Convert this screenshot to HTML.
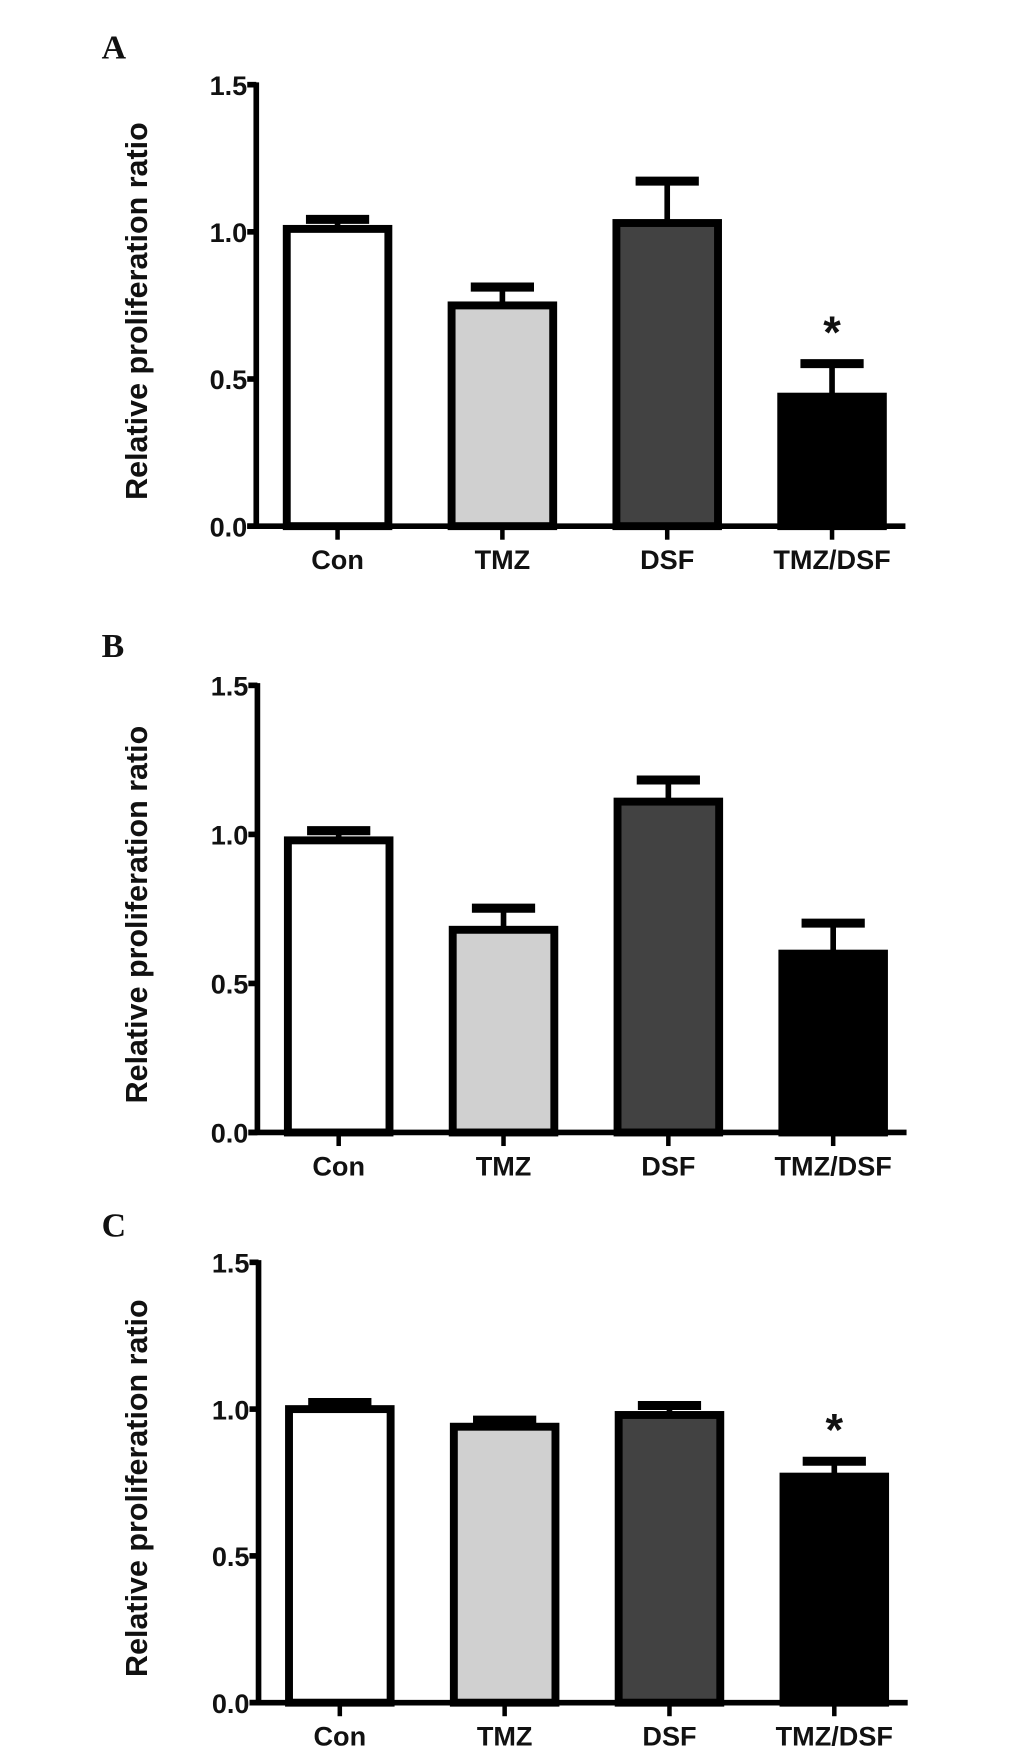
<!DOCTYPE html>
<html><head><meta charset="utf-8"><style>
html,body{margin:0;padding:0;background:#fff;}
svg{display:block;}
text{font-family:"Liberation Sans",sans-serif;font-weight:bold;fill:#111;}
text.letter{font-family:"Liberation Serif",serif;}
</style></head><body>
<svg id="fig" width="1033" height="1758" viewBox="0 0 915 1557" preserveAspectRatio="none" xmlns="http://www.w3.org/2000/svg"></svg>
<script>
const categories = ["Con","TMZ","DSF","TMZ/DSF"];
const fills = ["#ffffff","#d0d0d0","#424242","#000000"];
const panelLabels = ["A","B","C"];
const meansA = [1.01,0.75,1.03,0.44];
const errA = [1.05,0.82,1.18,0.56];
const meansB = [0.98,0.68,1.11,0.60];
const errB = [1.02,0.76,1.19,0.71];
const meansC = [1.00,0.94,0.98,0.77];
const errC = [1.03,0.97,1.02,0.83];
const starsA = [false,false,false,true];
const starsB = [false,false,false,false];
const starsC = [false,false,false,true];
const yTicks = [0,0.5,1.0,1.5];
const tickLabels = ["0.0","0.5","1.0","1.5"];

const panels = [
 {means:meansA, err:errA, stars:starsA, top:75, bottom:466, ax:227, letterY:52},
 {means:meansB, err:errB, stars:starsB, top:607, bottom:1003, ax:228, letterY:582},
 {means:meansC, err:errC, stars:starsC, top:1118, bottom:1508, ax:229, letterY:1095}
];
const svg = document.getElementById('fig');
const NS = "http://www.w3.org/2000/svg";
function mk(tag, attrs, parent){const e=document.createElementNS(NS,tag);for(const k in attrs)e.setAttribute(k,attrs[k]);(parent||svg).appendChild(e);return e;}

panels.forEach((p,pi)=>{
  const g = mk('g',{});
  
  
  const y = v => p.bottom - (v/1.5)*(p.bottom-p.top);
  const x0 = p.ax, step = 146, barW = 96, firstCenter = p.ax + 72;
  const xc = i => firstCenter + i*step;
  const L = mk('text',{x:90,y:p.letterY,'font-size':30,'class':'letter'},g);
  L.textContent = panelLabels[pi];
  
  
  const mid=(p.top+p.bottom)/2;
  const T = mk('text',{x:0,y:0,'font-size':27,'text-anchor':'middle',transform:`translate(130,${mid+5}) rotate(-90)`},g);
  T.textContent='Relative proliferation ratio';
  
  
  categories.forEach((c,i)=>{
    const top=y(p.means[i]), cx=xc(i);
    const eb = mk('line',{x1:cx,x2:cx,y1:y(p.err[i]),y2:top,stroke:'#000','stroke-width':5},g);
    
    
    const cap = mk('line',{x1:cx-28,x2:cx+28,y1:y(p.err[i])+2,y2:y(p.err[i])+2,stroke:'#000','stroke-width':8},g);
    
    
    const r = mk('rect',{x:cx-barW/2+3,y:top,width:barW-6,height:p.bottom-top,fill:fills[i],stroke:'#000','stroke-width':7},g);
    
    
    if(p.stars[i]){
      const s=mk('text',{x:cx,y:y(p.err[i])-12,'font-size':40,'text-anchor':'middle'},g);
      s.textContent='*';
      
      
    }
    const tk=mk('line',{x1:cx,x2:cx,y1:p.bottom,y2:p.bottom+12,stroke:'#000','stroke-width':4},g);
    
    
    const lb=mk('text',{x:cx,y:p.bottom+38,'font-size':24,'text-anchor':'middle'},g);
    lb.textContent=c;
    
    
  });
  const ya=mk('line',{x1:x0,x2:x0,y1:p.top-2,y2:p.bottom+2,stroke:'#000','stroke-width':5},g);
  
  
  const xa=mk('line',{x1:x0-8,x2:x0+575,y1:p.bottom,y2:p.bottom,stroke:'#000','stroke-width':5},g);
  
  
  yTicks.forEach((v,k)=>{
    const t=mk('line',{x1:x0-8,x2:x0,y1:y(v),y2:y(v),stroke:'#000','stroke-width':5},g);
    
    
    const tl=mk('text',{x:x0-8,y:y(v)+9,'font-size':24,'text-anchor':'end'},g);
    tl.textContent=tickLabels[k];
    
    
  });
});
</script>
</body></html>
